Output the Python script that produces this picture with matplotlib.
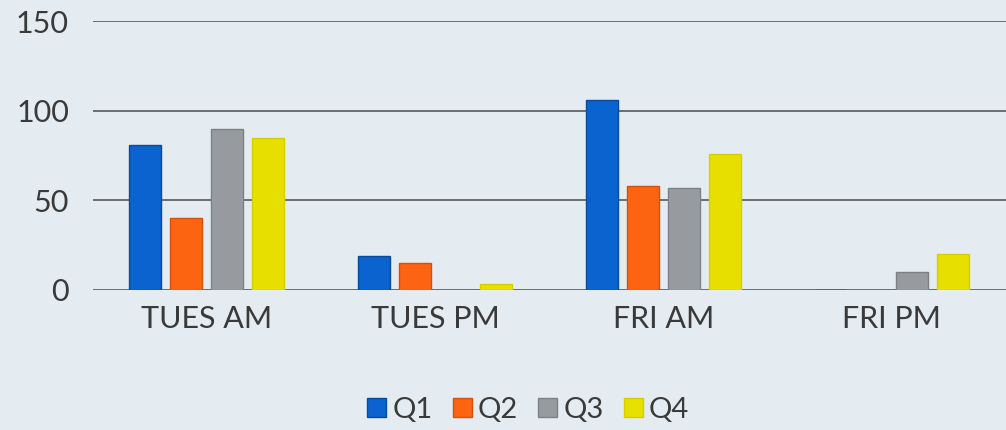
import numpy as np
import matplotlib.pyplot as plt

categories = ['TUES AM', 'TUES PM', 'FRI AM', 'FRI PM']
series = ['Q1', 'Q2', 'Q3', 'Q4']
q1 = [81, 19, 106, 0]
q2 = [40, 15, 58, 0]
q3 = [90, 0, 57, 10]
q4 = [85, 3, 76, 20]
yticks = [0, 50, 100, 150]

colors = ['#0a63cf', '#fd6412', '#979b9f', '#e6df00']
edges = ['#0a4a9a', '#d2500c', '#7d8185', '#d6cf00']
bg = '#e5ecf1'

plt.rcParams['font.family'] = ['Lato', 'DejaVu Sans']

fig = plt.figure(figsize=(10.06, 4.30), dpi=100, facecolor=bg)
ax = fig.add_axes([0.092, 0.326, 0.908, 0.625], facecolor=bg)

x = np.arange(len(categories))
step = 0.179
width = 0.14
for i, (vals, name) in enumerate(zip([q1, q2, q3, q4], series)):
    ax.bar(x + (i - 1.5) * step, vals, width, color=colors[i],
           edgecolor=edges[i], linewidth=1, label=name, zorder=3)

ax.set_xlim(-0.5, len(categories) - 0.5)
ax.set_ylim(0, 150)
ax.set_yticks(yticks)
ax.set_xticks(x)
ax.set_xticklabels(categories)
ax.grid(axis='y', color='#6b6e70', linewidth=1.4, zorder=0)
for s in ax.spines.values():
    s.set_visible(False)
ax.tick_params(axis='both', length=0, labelsize=22, colors='#3a3a3a')
ax.tick_params(axis='y', pad=17)
ax.tick_params(axis='x', pad=11)

leg = fig.legend(loc='center', bbox_to_anchor=(0.525, 0.047), ncol=4,
                 frameon=False, fontsize=21, handlelength=0.65,
                 handleheight=0.65, handletextpad=0.2, columnspacing=0.7)
for t in leg.get_texts():
    t.set_color('#3a3a3a')

fig.savefig('out.png', dpi=100, facecolor=bg)
